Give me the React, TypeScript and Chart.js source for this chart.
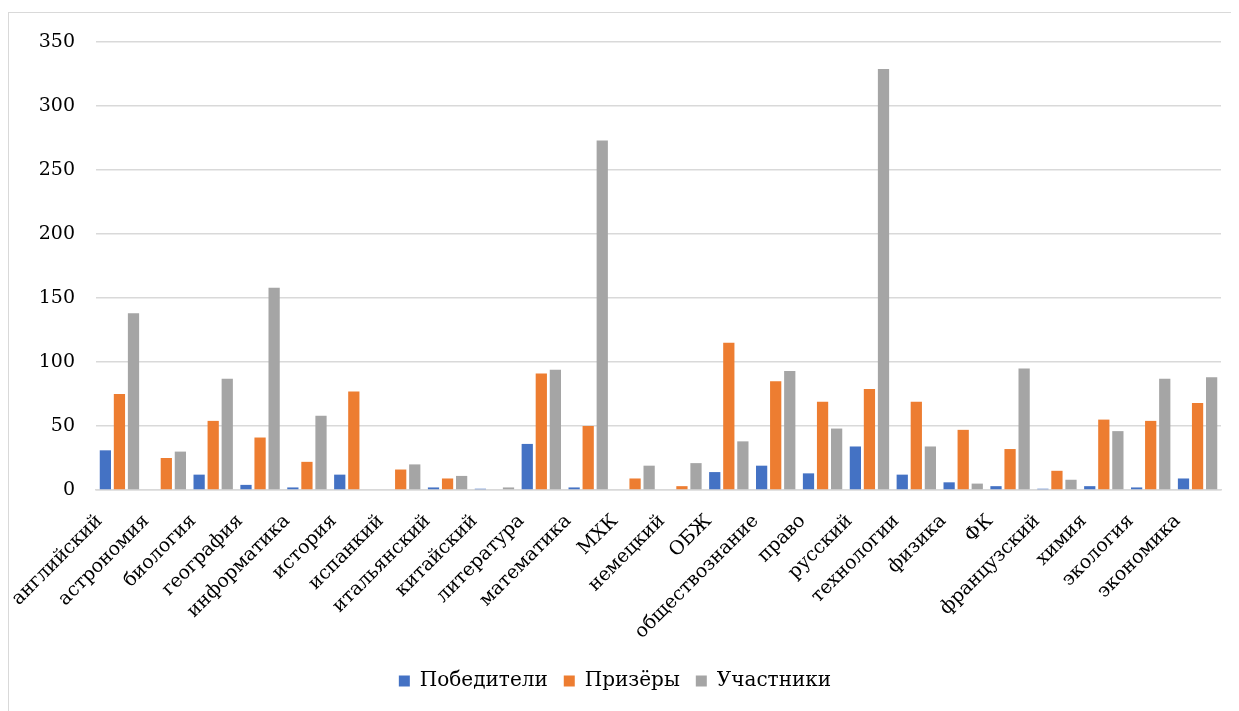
import React, { useEffect, useRef } from "react";
import { Chart, registerables } from "chart.js";

Chart.register(...registerables);

const categories = [
  "английский", "астрономия", "биология", "география", "информатика", "история",
  "испанкий", "итальянский", "китайский", "литература", "математика", "МХК",
  "немецкий", "ОБЖ", "обществознание", "право", "русский", "технологии",
  "физика", "ФК", "французский", "химия", "экология", "экономика",
];

const winners = [31, 0, 12, 4, 2, 12, 0, 2, 1, 36, 2, 0, 0, 14, 19, 13, 34, 12, 6, 3, 1, 3, 2, 9];
const prizewinners = [75, 25, 54, 41, 22, 77, 16, 9, 0, 91, 50, 9, 3, 115, 85, 69, 79, 69, 47, 32, 15, 55, 54, 68];
const participants = [138, 30, 87, 158, 58, 0, 20, 11, 2, 94, 273, 19, 21, 38, 93, 48, 329, 34, 5, 95, 8, 46, 87, 88];

const seriesNames = ["Победители", "Призёры", "Участники"];
const yTicks = [0, 50, 100, 150, 200, 250, 300, 350];

const FONT = "'DejaVu Serif', 'Liberation Serif', serif";

export default function App() {
  const ref = useRef<HTMLCanvasElement | null>(null);

  useEffect(() => {
    document.documentElement.style.overflow = "hidden";
    const canvas = ref.current;
    if (!canvas) return;
    const chart = new Chart(canvas, {
      type: "bar",
      data: {
        labels: categories,
        datasets: [
          { label: seriesNames[0], data: winners, backgroundColor: "#4472C4" },
          { label: seriesNames[1], data: prizewinners, backgroundColor: "#ED7D31" },
          { label: seriesNames[2], data: participants, backgroundColor: "#A5A5A5" },
        ],
      },
      options: {
        animation: false,
        responsive: true,
        maintainAspectRatio: false,
        datasets: { bar: { categoryPercentage: 0.9, barPercentage: 0.8 } },
        layout: { padding: { top: 29, right: 18, bottom: 10, left: 0 } },
        plugins: {
          tooltip: { enabled: false },
          legend: {
            position: "bottom",
            labels: {
              boxWidth: 11,
              boxHeight: 11,
              padding: 16,
              color: "#000",
              font: { family: FONT, size: 20 },
            },
          },
        },
        scales: {
          x: {
            grid: { display: false, drawTicks: false },
            border: { display: true, color: "#d9d9d9", width: 1.5 },
            ticks: {
              autoSkip: false,
              maxRotation: 45,
              minRotation: 45,
              padding: 20,
              labelOffset: -20,
              color: "#000",
              font: { family: FONT, size: 19 },
            },
            afterFit: (scale: any) => {
              scale.height = 165;
            },
          },
          y: {
            min: 0,
            max: 350,
            afterBuildTicks: (scale: any) => {
              scale.ticks = yTicks.map((v) => ({ value: v }));
            },
            grid: { color: "#d9d9d9", lineWidth: 1.5, drawTicks: false },
            border: { display: false },
            ticks: {
              padding: 21,
              color: "#000",
              font: { family: FONT, size: 19 },
            },
            afterFit: (scale: any) => {
              scale.width = 87;
              scale.paddingTop = 0;
              scale.paddingBottom = 0;
            },
          },
        },
      },
    });
    return () => chart.destroy();
  }, []);

  return (
    <div style={{ paddingTop: 4 }}>
      <div
        style={{
          borderTop: "1px solid #d9d9d9",
          borderLeft: "1px solid #d9d9d9",
          width: 1240,
          height: 698,
          background: "#fff",
        }}
      >
        <div style={{ position: "relative", width: 1230, height: 698 }}>
          <canvas ref={ref} />
        </div>
      </div>
    </div>
  );
}
